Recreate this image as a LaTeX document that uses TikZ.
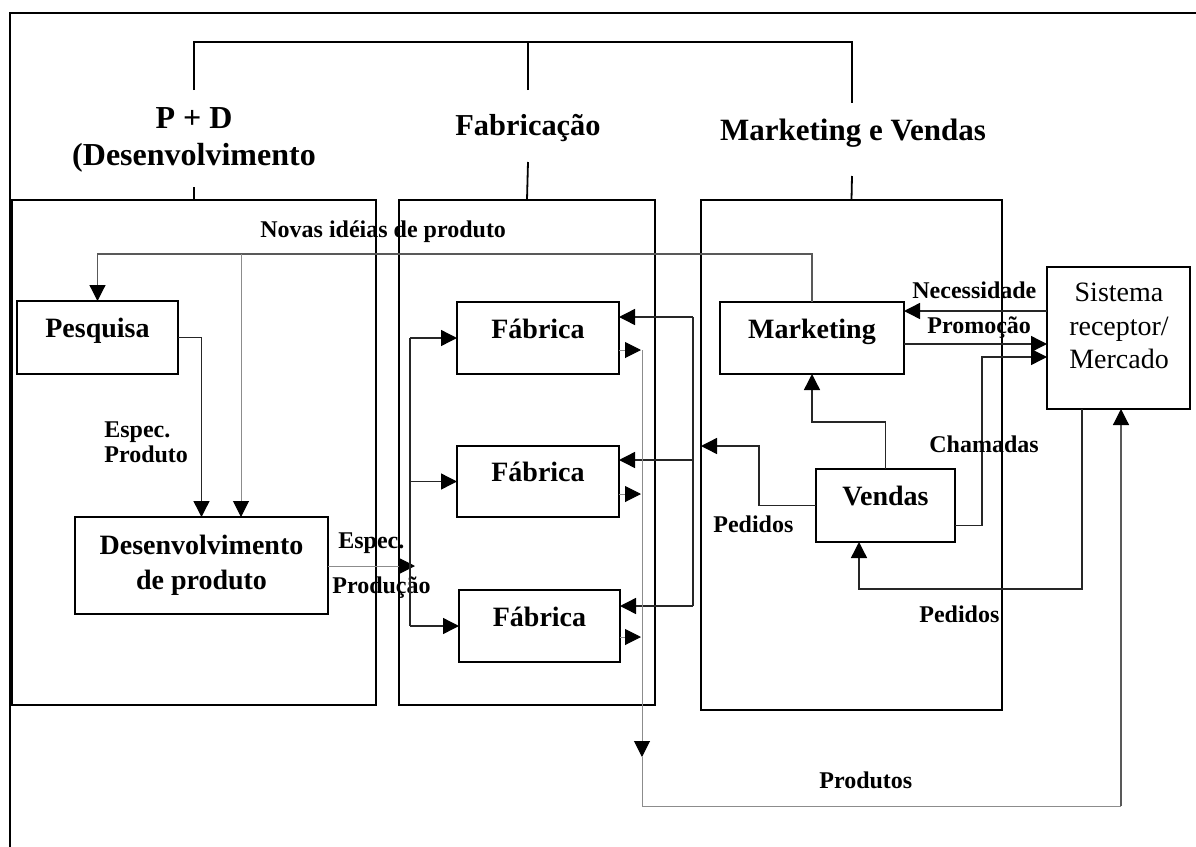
\documentclass[tikz,border=0pt]{standalone}
\usepackage{fontspec}
\setmainfont{Liberation Serif}
\usetikzlibrary{arrows.meta}
\begin{document}
\begin{tikzpicture}[x=0.5pt,y=-0.5pt,
  >={Triangle[length=8pt,width=8pt,color=black]},
  frame/.style={line width=0.8pt, draw=black},
  ink/.style={line width=0.7pt, draw=black!85},
  grey/.style={line width=0.6pt, draw=black!65},
  pale/.style={line width=0.5pt, draw=black!45},
  area/.style={draw, line width=1pt, inner sep=0pt, outer sep=0pt},
  unit/.style={draw, line width=1pt, inner sep=0pt, outer sep=0pt,
    font=\bfseries\fontsize{14}{17.5}\selectfont, text height=9.5pt, text depth=9.5pt},
  tag/.style={font=\bfseries\fontsize{12}{14}\selectfont, inner sep=0pt, anchor=base west},
  head/.style={inner sep=0pt, anchor=base},
]
\useasboundingbox (0,0) rectangle (1196,847);

% page frame (top and left edges only)
\draw[frame] (10,847) -- (10,13) -- (1196,13);

% department areas
\node[area, minimum width=182pt, minimum height=252.5pt] (pdb) at (194,452.5) {};
\node[area, minimum width=128pt, minimum height=252.5pt] (fabb) at (527,452.5) {};
\node[area, minimum width=150.5pt, minimum height=255pt] (mkvb) at (851.5,455) {};

% department headings
\node[head, font=\bfseries\fontsize{16}{19}\selectfont] (hpd1) at (194,128) {P + D};
\node[head, font=\bfseries\fontsize{16}{19}\selectfont] (hpd2) at (194,165) {(Desenvolvimento};
\node[head, font=\bfseries\fontsize{15.2}{19}\selectfont] (hfab) at (528,135) {Fabricação};
\node[head, font=\bfseries\fontsize{15.5}{19}\selectfont] (hmkv) at (853,140) {Marketing e Vendas};

% organisation bracket
\coordinate (bpd) at (194,90);
\coordinate (bfab) at (528,90);
\coordinate (bmkv) at (852,103);
\coordinate (lpd) at (194,187);
\coordinate (lfab) at (528,162);
\coordinate (lmkv) at (852,176);
\draw[frame, line width=0.9pt] (bpd) -- (194,42) -- (852,42) -- (bmkv);
\draw[frame, line width=0.9pt] (bfab) -- (528,42);
\draw[frame, line width=0.9pt] (lpd) -- (pdb.north);
\draw[frame, line width=0.9pt] (lfab) -- (fabb.north);
\draw[frame, line width=0.9pt] (lmkv) -- (mkvb.north);

% units
\node[unit, minimum width=80.5pt, minimum height=36.5pt] (pes) at (97.5,337.5) {Pesquisa};
\node[unit, minimum width=126.5pt, minimum height=48.5pt, text height=, text depth=, align=center] (des) at (201.5,565.5) {Desenvolvimento\\de produto};
\node[unit, minimum width=81pt, minimum height=36pt] (fab1) at (538,338) {Fábrica};
\node[unit, minimum width=81pt, minimum height=35.5pt] (fab2) at (538,481.5) {Fábrica};
\node[unit, minimum width=80.5pt, minimum height=36pt] (fab3) at (539.5,626) {Fábrica};
\node[unit, minimum width=92pt, minimum height=36pt] (mkt) at (812,338) {Marketing};
\node[unit, minimum width=69.5pt, minimum height=36.5pt] (ven) at (885.5,505.5) {Vendas};
\node[area, minimum width=71.5pt, minimum height=71pt] (sis) at (1118.5,338) {};
\node[inner sep=0pt, anchor=north, align=center, font=\fontsize{14}{16.75}\selectfont] (sist) at (1119,283) {Sistema\\receptor/\\Mercado};

% new product ideas
\coordinate (nv) at (241,254);
\draw[grey,->] (mkt.north) |- (pes.north |- nv) -- (pes.north);
\draw[pale,->] (nv) -- (nv |- des.north);
\node[tag] (lnv) at (260,237) {Novas idéias de produto};

% research to development
\draw[ink,->] (pes.east) -| (des.north);
\node[tag] (lep1) at (104,437) {Espec.};
\node[tag] (lep2) at (104,462) {Produto};

% production specs and distribution to factories
\coordinate (sp) at (415,566);
\draw[pale,->] (des.east |- sp) -- (sp);
\node[tag] (lsp1) at (338,548) {Espec.};
\node[tag] (lsp2) at (332,593) {Produção};
\coordinate (dtop) at (410,338);
\coordinate (dbot) at (410,626);
\draw[ink] (dtop) -- (dbot);
\draw[ink,->] (dtop) -- (fab1.west);
\draw[ink,->] (dtop |- fab2.west) -- (fab2.west);
\draw[ink,->] (dbot) -- (fab3.west);

% orders to factories
\coordinate (otop) at (693,317);
\coordinate (omid) at (693,460);
\coordinate (obot) at (693,606);
\draw[ink] (otop) -- (obot);
\draw[ink,->] (otop) -- (fab1.east |- otop);
\draw[ink,->] (omid) -- (fab2.east |- omid);
\draw[ink,->] (obot) -- (fab3.east |- obot);

% sales orders
\coordinate (pa) at (759,446);
\draw[ink,->] (ven.west) -| (pa) -- (mkvb.west |- pa);
\node[tag] (lped1) at (713,532) {Pedidos};

% sales to marketing
\coordinate (vm) at (812,422);
\draw[ink,->] (ven.north) |- (vm) -- (mkt.south);

% market links
\coordinate (nc) at (1047,311);
\coordinate (pr) at (1047,344);
\coordinate (ch) at (982,357);
\draw[ink,->] (sis.west |- nc) -- (mkt.east |- nc);
\draw[ink,->] (mkt.east |- pr) -- (sis.west |- pr);
\draw[ink,->] ([yshift=-10pt]ven.east) -| (ch) -- (sis.west |- ch);
\node[tag] (lnec) at (912,298) {Necessidade};
\node[tag] (lpro) at (927,333) {Promoção};
\node[tag] (lcha) at (929,452) {Chamadas};

% market orders back to sales
\coordinate (mo) at (1082,589);
\coordinate (mv) at (859,589);
\draw[ink,->] (sis.south -| mo) -- (mo) -- (mv) -- (ven.south -| mv);
\node[tag] (lped2) at (919,622) {Pedidos};

% products
\coordinate (pv) at (642,350);
\coordinate (pd) at (642,757);
\coordinate (pb) at (642,806);
\coordinate (pm) at (1121,806);
\draw[pale,->] (fab1.east |- 0,350) -- (641,350);
\draw[pale,->] (fab2.east |- 0,494) -- (641,494);
\draw[pale,->] (fab3.east |- 0,637) -- (641,637);
\draw[pale,->] (pv) -- (pd);
\draw[pale] (pd) -- (pb) -- (pm);
\draw[grey,->] (pm) -- (sis.south -| pm);
\node[tag] (lprod) at (819,788) {Produtos};
\end{tikzpicture}
\end{document}
